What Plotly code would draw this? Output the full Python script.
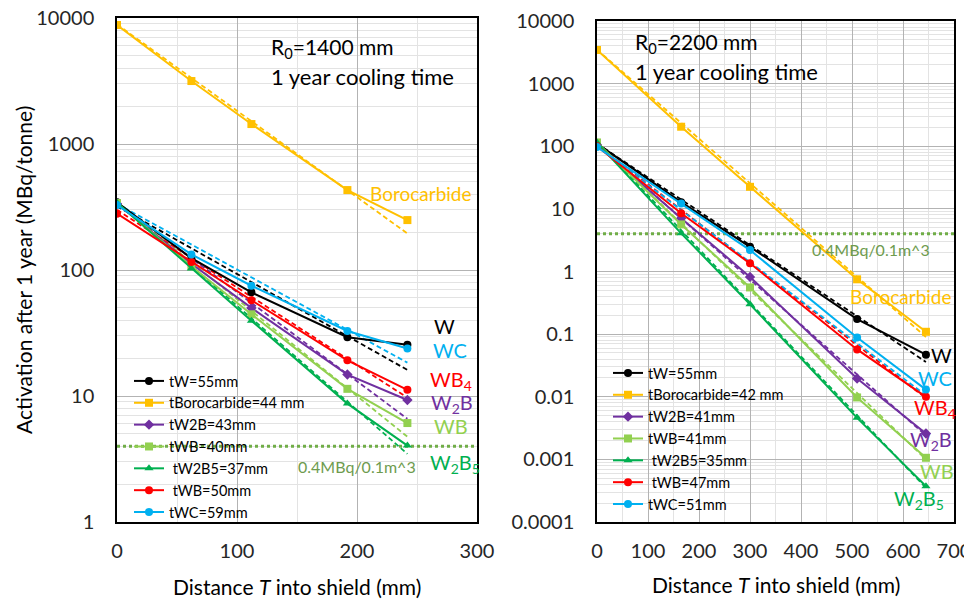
import plotly.graph_objects as go

# ---------------- data: left panel (R0 = 1400 mm) ----------------
x_left = [0, 62, 112, 192, 242]
names_left = ["tW=55mm", "tBorocarbide=44 mm", "tW2B=43mm", "tWB=40mm",
              " tW2B5=37mm", " tWB=50mm", "tWC=59mm"]
W_left = [345, 124, 66.5, 29.3, 25.5]
Boro_left = [8800, 3160, 1440, 431, 249]
W2B_left = [335, 112, 50, 14.8, 9.3]
WB_left = [340, 107, 44.5, 11.4, 6.1]
W2B5_left = [342, 103, 39.6, 8.7, 4.04]
WB4_left = [280, 116, 57.5, 19.2, 11.2]
WC_left = [328, 133, 75, 32.8, 23.8]
# exponential trend lines (value at first and last x)
trend_start_left = [320, 8900, 340, 345, 350, 300, 335]
trend_end_left = [16.1, 195, 6.6, 4.75, 3.47, 9.7, 18.4]

# ---------------- data: right panel (R0 = 2200 mm) ----------------
x_right = [0, 165, 300, 510, 645]
names_right = ["tW=55mm", "tBorocarbide=42 mm", "tW2B=41mm", "tWB=41mm",
               " tW2B5=35mm", " tWB=47mm", "tWC=51mm"]
W_right = [110, 12.8, 2.48, 0.174, 0.047]
Boro_right = [3440, 205, 22.5, 0.75, 0.109]
W2B_right = [105, 7.1, 0.82, 0.0196, 0.00259]
WB_right = [115, 5.65, 0.557, 0.00975, 0.00106]
W2B5_right = [115, 4.07, 0.30, 0.0046, 0.000373]
WB4_right = [100, 8.5, 1.35, 0.057, 0.00996]
WC_right = [97, 12.2, 2.2, 0.0885, 0.013]
trend_start_right = [110, 3500, 110, 115, 118, 105, 100]
trend_end_right = [0.036, 0.09, 0.0024, 0.0010, 0.00035, 0.0095, 0.0105]

threshold = 4  # 0.4 MBq / 0.1 m^3
threshold_label = "0.4MBq/0.1m^3"

xrange_left = [0, 300]
xrange_right = [0, 700]
xticks_left = [0, 100, 200, 300]
xticks_right = [0, 100, 200, 300, 400, 500, 600, 700]
yticks_left = [1, 10, 100, 1000, 10000]
yticks_right = [0.0001, 0.001, 0.01, 0.1, 1, 10, 100, 1000, 10000]
ytext_left = ["1", "10", "100", "1000", "10000"]
ytext_right = ["0.0001", "0.001", "0.01", "0.1", "1", "10", "100", "1000", "10000"]

# ---------------- styles ----------------
colors = ["#000000", "#FFC000", "#7030A0", "#92D050", "#00B050", "#FF0000", "#00B0F0"]
symbols = ["circle", "square", "diamond", "square", "triangle-up", "circle", "circle"]
msizes = [8, 8, 8, 8, 8, 8, 8]
FONT = "Lato, 'Open Sans', sans-serif"
W_PX, H_PX = 972, 603
OFF = 8  # page body margin


def px(x):
    return (x - OFF) / W_PX


def py(y):
    return 1 - (y - OFF) / H_PX


series_left = [W_left, Boro_left, W2B_left, WB_left, W2B5_left, WB4_left, WC_left]
series_right = [W_right, Boro_right, W2B_right, WB_right, W2B5_right, WB4_right, WC_right]

fig = go.Figure()

# threshold dotted lines
fig.add_trace(go.Scatter(x=xrange_left, y=[threshold, threshold], mode="lines",
                         line=dict(color="#70AD47", width=3, dash="dot"),
                         showlegend=False, xaxis="x", yaxis="y", hoverinfo="skip"))
fig.add_trace(go.Scatter(x=xrange_right, y=[threshold, threshold], mode="lines",
                         line=dict(color="#70AD47", width=3, dash="dot"),
                         showlegend=False, xaxis="x2", yaxis="y2", hoverinfo="skip"))

# trend lines
for i in range(7):
    fig.add_trace(go.Scatter(x=[x_left[0], x_left[-1]],
                             y=[trend_start_left[i], trend_end_left[i]], mode="lines",
                             line=dict(color=colors[i], width=1.8, dash="5px,3px"),
                             showlegend=False, xaxis="x", yaxis="y", hoverinfo="skip"))
    fig.add_trace(go.Scatter(x=[x_right[0], x_right[-1]],
                             y=[trend_start_right[i], trend_end_right[i]], mode="lines",
                             line=dict(color=colors[i], width=1.8, dash="5px,3px"),
                             showlegend=False, xaxis="x2", yaxis="y2", hoverinfo="skip"))

# data series
for i in range(7):
    fig.add_trace(go.Scatter(x=x_left, y=series_left[i], mode="lines+markers",
                             name=names_left[i],
                             line=dict(color=colors[i], width=2),
                             marker=dict(symbol=symbols[i], size=msizes[i], color=colors[i]),
                             xaxis="x", yaxis="y", legend="legend"))
for i in range(7):
    fig.add_trace(go.Scatter(x=x_right, y=series_right[i], mode="lines+markers",
                             name=names_right[i],
                             line=dict(color=colors[i], width=2),
                             marker=dict(symbol=symbols[i], size=msizes[i], color=colors[i]),
                             xaxis="x2", yaxis="y2", legend="legend2"))

minor_left = [m * 10 ** d for d in range(0, 4) for m in range(2, 10)]
minor_right = [m * 10.0 ** d for d in range(-4, 4) for m in range(2, 10)]

axis_common = dict(showline=True, linecolor="#000000", linewidth=1.5, mirror=True,
                   zeroline=False, gridcolor="#B3B3B3", gridwidth=1, automargin=False,
                   ticklabeloverflow="allow",
                   tickfont=dict(family=FONT, size=20, color="#262626"),
                   ticks="")

fig.update_layout(
    width=W_PX, height=H_PX,
    margin=dict(l=0, r=0, t=0, b=0, autoexpand=False),
    paper_bgcolor="white", plot_bgcolor="white",
    font=dict(family=FONT, color="#000000"),
    xaxis=dict(domain=[px(117), px(477)], range=xrange_left, tickvals=xticks_left,
               anchor="y", ticklabelstandoff=10,
               minor=dict(dtick=50, showgrid=True, gridcolor="#E3E3E3"), **axis_common),
    yaxis=dict(domain=[py(522), py(18)], type="log", range=[0, 4], anchor="x",
               tickvals=yticks_left, ticktext=ytext_left, ticklabelstandoff=17,
               minor=dict(tickvals=minor_left, showgrid=True, gridcolor="#E3E3E3"),
               **axis_common),
    xaxis2=dict(domain=[px(597), px(954)], range=xrange_right, tickvals=xticks_right,
                anchor="y2", ticklabelstandoff=10,
                minor=dict(dtick=50, showgrid=True, gridcolor="#E3E3E3"), **axis_common),
    yaxis2=dict(domain=[py(522), py(21)], type="log", range=[-4, 4], anchor="x2",
                tickvals=yticks_right, ticktext=ytext_right, ticklabelstandoff=17,
                minor=dict(tickvals=minor_right, showgrid=True, gridcolor="#E3E3E3"),
                **axis_common),
    legend=dict(x=px(129), y=py(365), xanchor="left", yanchor="top",
                bgcolor="rgba(0,0,0,0)", font=dict(family=FONT, size=14.5, color="#000"),
                itemwidth=30, tracegroupgap=0),
    legend2=dict(x=px(608), y=py(357), xanchor="left", yanchor="top",
                 bgcolor="rgba(0,0,0,0)", font=dict(family=FONT, size=14.5, color="#000"),
                 itemwidth=30, tracegroupgap=0),
    showlegend=True,
)

ann = []


def add_text(text, x, y, size, color, xanchor="left", angle=0):
    ann.append(dict(text=text, x=px(x), y=py(y), xref="paper", yref="paper",
                    xanchor=xanchor, yanchor="middle", showarrow=False,
                    textangle=angle, font=dict(family=FONT, size=size, color=color)))


# axis titles
add_text("Activation after 1 year (MBq/tonne)", 23, 270, 21, "#000", xanchor="center", angle=-90)
add_text("Distance <i>T</i> into shield (mm)", 297, 586, 21, "#000", xanchor="center")
add_text("Distance <i>T</i> into shield (mm)", 776, 584, 21, "#000", xanchor="center")

# panel notes
add_text("R<sub>0</sub>=1400 mm", 269, 48, 21, "#000")
add_text("1 year cooling time", 269, 76, 22, "#000")
add_text("R<sub>0</sub>=2200 mm", 633, 43, 21, "#000")
add_text("1 year cooling time", 633, 72, 22, "#000")

# material labels
labels = ["W", "Borocarbide", "W<sub>2</sub>B", "WB", "W<sub>2</sub>B<sub>5</sub>", "WB<sub>4</sub>", "WC"]
label_pos_left = [(432, 326), (368, 193), (429, 403), (432, 426), (428, 463), (428, 380), (431, 350)]
label_pos_right = [(929, 355), (848, 296), (908, 440), (918, 471), (892, 500), (912, 408), (916, 378)]
for i in range(7):
    size = 19 if i == 1 else 20
    add_text(labels[i], *label_pos_left[i], size, colors[i])
    add_text(labels[i], *label_pos_right[i], size, colors[i])

add_text(threshold_label, 296, 466, 16, "#6E9B4E")
add_text(threshold_label, 810, 250, 16, "#6E9B4E")

fig.update_layout(annotations=ann)

fig.write_html("out.html")
